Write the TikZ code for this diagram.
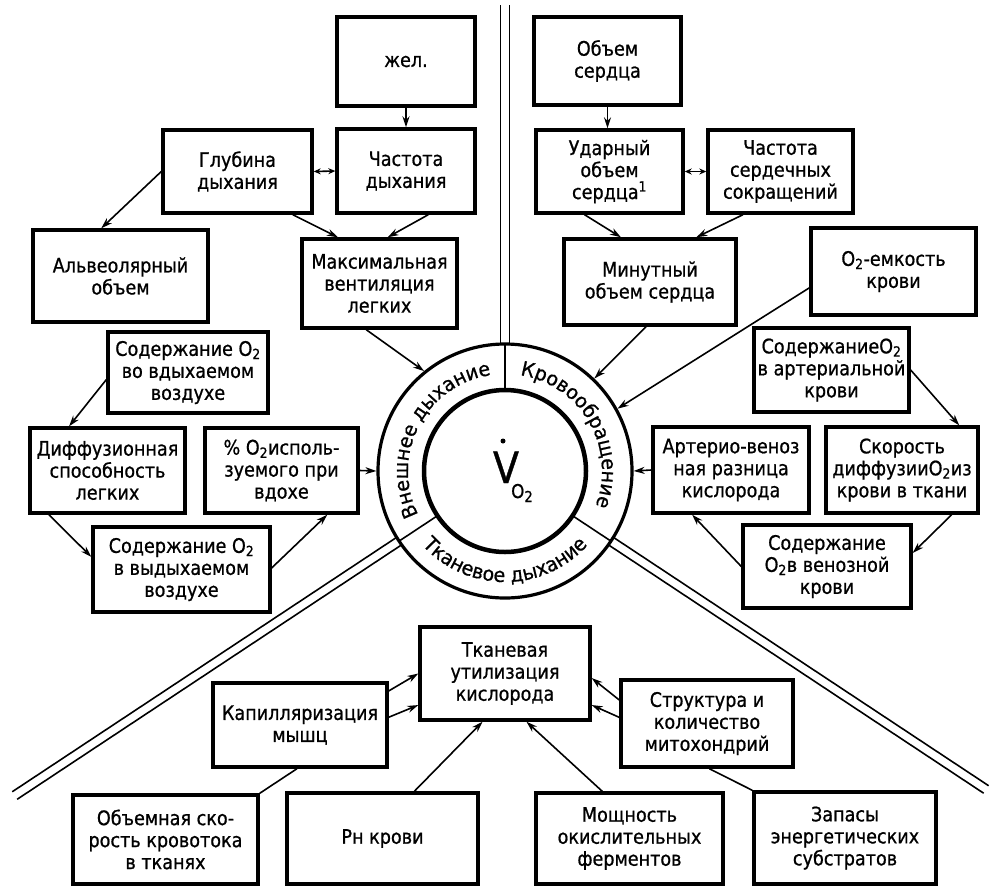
\documentclass[tikz,border=0pt]{standalone}
\usepackage{fontspec}
\newfontfamily\boxfam[FakeStretch=0.88,FakeBold=0.8]{DejaVu Sans}
\newfontfamily\ringfam[FakeStretch=0.95,FakeBold=0.8]{DejaVu Sans}
\usetikzlibrary{arrows.meta,decorations.text,calc}
\newcommand\bxf{\boxfam\fontsize{20}{22}\selectfont}
\newcommand\Ot{O\textsubscript{2}}
\begin{document}
\begin{tikzpicture}[x=1pt,y=-1pt,
  box/.style={draw, line width=3.4pt, align=center, inner sep=0pt, font=\bxf},
  arr/.style={line width=1.6pt, -{Stealth[length=11pt,width=7pt]}},
  darr/.style={line width=1.6pt, {Stealth[length=7pt,width=6pt]}-{Stealth[length=7pt,width=6pt]}},
  ln/.style={line width=1.6pt},
  dl/.style={line width=1.6pt},
  ringtxt/.style={decorate, decoration={text along path, text align=center, text={|\ringfam\fontsize{20}{20}\selectfont|#1}}}
]
\useasboundingbox (0,0) rectangle (996,887);

% ring
\node[circle, draw, line width=3.2pt, minimum size=254pt, inner sep=0pt] (ring) at (505,471) {};
\begin{scope}[shift={(505,471)}, x=1pt, y=1pt]
  \draw[line width=4.5pt] (0,0) circle[radius=81pt];
  \foreach \a in {90,213.5,326.5} \draw[line width=1.6pt] (\a:81) -- (\a:127);
  \foreach \a/\L in {90/466,213.5/588,326.5/577} {
    \begin{scope}[rotate=\a]
      \draw[dl] (126.9,4.5) -- (\L,4.5);
      \draw[dl] (126.9,-4.5) -- (\L,-4.5);
    \end{scope}
  }
  \path[ringtxt={Внешнее дыхание}] (215:97) arc[start angle=215, end angle=90, radius=97];
  \path[ringtxt={Кровообращение}] (85:97) arc[start angle=85, end angle=-25, radius=97];
  \path[ringtxt={Тканевое дыхание}] (205:111) arc[start angle=205, end angle=335, radius=111];
\end{scope}
\node[anchor=base, inner sep=0pt, font={\boxfam\fontsize{43}{43}\selectfont}] (vv) at (506,483) {V};
\node[anchor=base west, inner sep=0pt, font={\boxfam\fontsize{19}{19}\selectfont}] (vsub) at (511,498) {O\raisebox{-4pt}{\fontsize{15}{15}\selectfont 2}};
\fill (503,441) circle[radius=2.5pt];

% boxes
\node[box, minimum width=138pt, minimum height=89pt] (zhel) at (406,61.5) {жел.};
\node[box, minimum width=138pt, minimum height=84pt] (chd) at (406,171) {Частота\\дыхания};
\node[box, minimum width=149pt, minimum height=83pt] (glub) at (237.5,171.5) {Глубина\\дыхания};
\node[box, minimum width=175pt, minimum height=92pt] (alv) at (120.5,276) {Альвеолярный\\объем};
\node[box, minimum width=155pt, minimum height=89pt] (maxv) at (379.5,283.5) {Максимальная\\вентиляция\\легких};
\node[box, minimum width=147pt, minimum height=88pt] (obs) at (607.5,61) {Объем\\сердца};
\node[box, minimum width=147pt, minimum height=83pt] (udar) at (609.5,171.5) {Ударный\\объем\\сердца\textsuperscript{1}};
\node[box, minimum width=145pt, minimum height=83pt] (chss) at (780.5,171.5) {Частота\\сердечных\\сокращений};
\node[box, minimum width=172pt, minimum height=86pt] (minut) at (650,282) {Минутный\\объем сердца};
\node[box, minimum width=165pt, minimum height=87pt] (emk) at (893.5,271.5) {\Ot-емкость\\крови};
\node[box, minimum width=160pt, minimum height=81pt] (vdyh) at (188,372.5) {Содержание \Ot\\во вдыхаемом\\воздухе};
\node[box, minimum width=155pt, minimum height=85pt] (diff) at (107.5,470.5) {Диффузионная\\способность\\легких};
\node[box, minimum width=153pt, minimum height=85pt] (proc) at (281.5,470.5) {\% \Ot исполь-\\зуемого при\\вдохе};
\node[box, minimum width=177pt, minimum height=85pt] (vydyh) at (181.5,569.5) {Содержание \Ot\\в выдыхаемом\\воздухе};
\node[box, minimum width=155pt, minimum height=84pt] (arter) at (831.5,370) {Содержание\Ot\\в артериальной\\крови};
\node[box, minimum width=156pt, minimum height=86pt] (av) at (731,470) {Артерио-веноз\\ная разница\\кислорода};
\node[box, minimum width=152pt, minimum height=86pt] (skor) at (902,470) {Скорость\\диффузии\Ot из\\крови в ткани};
\node[box, minimum width=168pt, minimum height=83pt] (ven) at (827,566.5) {Содержание\\\Ot в венозной\\крови};
\node[box, minimum width=170pt, minimum height=93pt] (tkan) at (505,673.5) {Тканевая\\утилизация\\кислорода};
\node[box, minimum width=174pt, minimum height=84pt] (kap) at (300,725) {Капилляризация\\мышц};
\node[box, minimum width=172pt, minimum height=87pt] (strukt) at (707,723.5) {Структура и\\количество\\митохондрий};
\node[box, minimum width=185pt, minimum height=89pt] (obskor) at (165.5,839.5) {Объемная ско-\\рость кровотока\\в тканях};
\node[box, minimum width=191pt, minimum height=91pt] (ph) at (382.5,838.5) {Рн крови};
\node[box, minimum width=187pt, minimum height=91pt] (mosh) at (629.5,838.5) {Мощность\\окислительных\\ферментов};
\node[box, minimum width=182pt, minimum height=92pt] (zap) at (845,838) {Запасы\\энергетических\\субстратов};

% connectors
\draw[arr] (zhel) -- (chd);
\draw[darr] (glub.east) -- (chd.west);
\draw[arr] (glub.west) -- (alv.112);
\draw[arr] (glub.-38) -- (maxv.132);
\draw[arr] (chd.-63) -- (maxv.80);
\draw[arr] (maxv.-106) -- (ring.129);
\draw[arr] (obs.south) -- (obs.south |- udar.north);
\draw[darr] (udar.east) -- (chss.west);
\draw[arr] (udar.-120) -- (minut.123);
\draw[arr] (chss.-131) -- (minut.44);
\draw[arr] (minut.-95) -- (ring.46);
\draw[arr] (emk.-169) -- (ring.29);
\draw[arr] (vdyh.-175) -- (diff.131);
\draw[arr] (diff.-143) -- (vydyh.172);
\draw[arr] (vydyh.1) -- (proc.-44);
\draw[arr] (proc.east) -- (ring.west);
\draw[arr] (arter.east) -- (skor.38);
\draw[arr] (skor.-42) -- (ven.9);
\draw[arr] (ven.west) -- (av.-131);
\draw[arr] (av.west) -- (ring.east);
\draw[arr] (kap.21) -- (tkan.180);
\draw[arr] (kap.5) -- (tkan.-160);
\draw[arr] (strukt.165) -- (tkan.-3);
\draw[arr] (strukt.176) -- (tkan.-20);
\draw[ln] (obskor.north east) -- (kap.-94);
\draw[arr] (ph.56) -- (tkan.-115);
\draw[arr] (mosh.120) -- (tkan.-66);
\draw[ln] (zap.north west) -- (strukt.-87);
\end{tikzpicture}
\end{document}
